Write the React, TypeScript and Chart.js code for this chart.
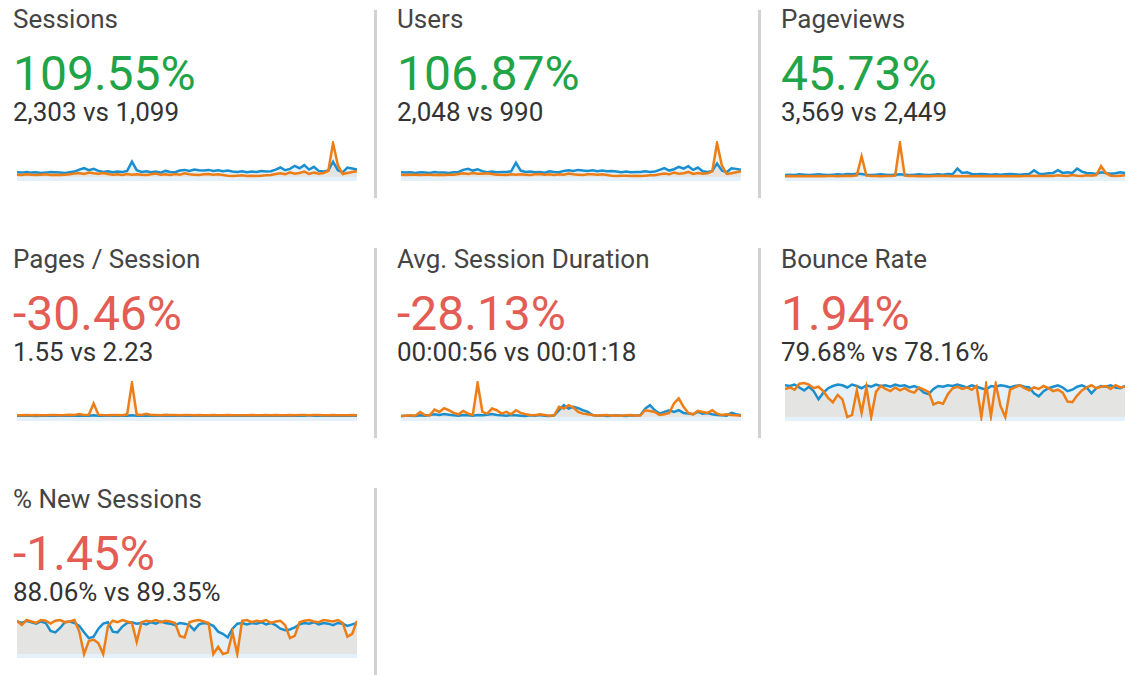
import { useEffect, useRef } from 'react';
import { Chart, registerables } from 'chart.js';

Chart.register(...registerables);

// ---- Tile texts ----
const titles = ['Sessions', 'Users', 'Pageviews', 'Pages / Session', 'Avg. Session Duration', 'Bounce Rate', '% New Sessions'];
const changes = ['109.55%', '106.87%', '45.73%', '-30.46%', '-28.13%', '1.94%', '-1.45%'];
const positive = [true, true, true, false, false, false, false];
const comparisons = ['2,303 vs 1,099', '2,048 vs 990', '3,569 vs 2,449', '1.55 vs 2.23', '00:00:56 vs 00:01:18', '79.68% vs 78.16%', '88.06% vs 89.35%'];

// ---- Series (current = blue, previous = orange) ----
const sessionsCurrent = [
  14, 13, 15, 13, 14, 12, 13, 15, 14, 13, 12, 14,
  16, 22, 26, 20, 24, 18, 15, 17, 14, 16, 15, 18,
  45, 20, 15, 17, 14, 16, 13, 18, 15, 14, 19, 21,
  18, 22, 20, 19, 21, 18, 20, 17, 19, 16, 15, 17,
  14, 16, 15, 18, 16, 17, 22, 28, 20, 24, 33, 26,
  35, 22, 30, 18, 16, 19, 45, 20, 14, 28, 25, 22,
];
const sessionsPrevious = [
  7, 6, 8, 7, 6, 7, 8, 6, 7, 6, 7, 8,
  10, 12, 9, 13, 11, 10, 12, 9, 7, 8, 6, 9,
  7, 8, 7, 6, 8, 10, 7, 8, 6, 9, 7, 11,
  8, 7, 6, 8, 9, 7, 8, 6, 4, 3, 4, 5,
  3, 4, 3, 4, 5, 6, 9, 11, 8, 14, 10, 12,
  16, 9, 13, 10, 12, 18, 100, 35, 9, 12, 15, 18,
];
const usersCurrent = [
  14, 13, 14, 12, 14, 13, 12, 15, 13, 13, 12, 14,
  15, 21, 24, 19, 23, 17, 14, 16, 14, 15, 15, 17,
  42, 19, 15, 16, 14, 15, 13, 17, 15, 14, 18, 20,
  18, 21, 19, 18, 20, 17, 19, 17, 18, 16, 14, 16,
  14, 15, 15, 17, 15, 16, 21, 26, 19, 23, 30, 25,
  32, 21, 28, 17, 15, 18, 40, 19, 14, 26, 24, 21,
];
const usersPrevious = [
  7, 6, 7, 7, 6, 7, 7, 6, 7, 6, 7, 7,
  9, 11, 9, 12, 10, 10, 11, 9, 7, 7, 6, 8,
  7, 8, 7, 6, 8, 9, 7, 8, 6, 8, 7, 10,
  8, 7, 6, 8, 8, 7, 8, 6, 4, 3, 4, 4,
  3, 4, 3, 4, 5, 5, 8, 10, 8, 13, 10, 11,
  15, 9, 12, 10, 11, 17, 100, 34, 9, 11, 14, 17,
];
const pageviewsCurrent = [
  6, 7, 6, 8, 7, 6, 7, 8, 7, 6, 7, 8,
  7, 9, 8, 10, 9, 7, 6, 7, 8, 7, 6, 7,
  8, 7, 6, 7, 8, 7, 6, 7, 8, 7, 9, 8,
  25, 12, 14, 9, 8, 9, 8, 7, 8, 7, 8, 9,
  8, 7, 8, 9, 20, 10, 9, 11, 12, 20, 12, 14,
  12, 25, 16, 12, 11, 9, 14, 12, 10, 11, 14, 12,
];
const pageviewsPrevious = [
  2, 3, 2, 3, 2, 3, 2, 3, 2, 3, 3, 2,
  3, 4, 3, 5, 61, 4, 3, 3, 2, 3, 3, 4,
  100, 4, 3, 3, 2, 3, 2, 3, 3, 4, 3, 2,
  3, 2, 3, 2, 3, 2, 3, 2, 3, 2, 3, 2,
  3, 2, 3, 3, 4, 3, 3, 4, 3, 5, 4, 3,
  6, 4, 3, 5, 4, 6, 32, 12, 4, 3, 4, 5,
];
const pagesPerSessionCurrent = [
  1.5, 1.4, 1.6, 1.5, 1.3, 1.5, 1.6, 1.4, 1.5, 1.7, 1.5, 1.4,
  1.6, 1.5, 1.4, 1.5, 2.0, 1.5, 1.4, 1.6, 1.5, 1.4, 1.5, 1.6,
  2.2, 1.5, 1.4, 1.6, 1.5, 1.7, 1.5, 1.4, 1.6, 1.5, 1.8, 1.5,
  1.4, 1.6, 1.5, 1.4, 1.5, 1.6, 1.5, 1.4, 1.5, 1.6, 1.5, 1.4,
  1.5, 1.7, 1.6, 1.5, 1.8, 1.5, 1.6, 1.7, 1.5, 1.9, 1.6, 1.7,
  1.5, 2.0, 1.6, 1.5, 1.7, 1.6, 1.5, 1.8, 1.6, 1.5, 1.7, 1.6,
];
const pagesPerSessionPrevious = [
  2.2, 2.1, 2.3, 2.2, 2.4, 2.2, 2.1, 2.3, 2.5, 2.2, 2.3, 2.6,
  2.3, 3.5, 2.4, 2.6, 16, 2.8, 2.3, 2.2, 2.4, 2.3, 2.2, 3.2,
  40, 3.0, 2.4, 3.8, 2.3, 2.4, 2.2, 2.6, 2.3, 2.5, 2.2, 2.3,
  2.4, 2.2, 2.3, 2.2, 2.1, 2.3, 2.2, 2.1, 2.3, 2.2, 2.1, 2.2,
  2.2, 2.3, 2.1, 2.2, 2.4, 2.2, 2.3, 2.1, 2.2, 2.3, 2.2, 2.4,
  2.3, 2.2, 2.4, 2.3, 2.2, 2.1, 2.3, 2.2, 2.1, 2.2, 2.3, 2.2,
];
const durationCurrent = [
  30, 40, 35, 30, 50, 40, 60, 80, 60, 90, 70, 50,
  40, 60, 50, 40, 60, 50, 70, 90, 60, 50, 40, 60,
  50, 40, 30, 50, 40, 60, 40, 30, 50, 200, 350, 250,
  300, 260, 200, 150, 60, 40, 50, 30, 40, 50, 40, 30,
  50, 40, 60, 250, 350, 200, 100, 150, 200, 150, 200, 120,
  100, 80, 150, 100, 120, 80, 60, 50, 40, 120, 80, 50,
];
const durationPrevious = [
  30, 40, 50, 40, 150, 60, 50, 220, 150, 260, 200, 120,
  80, 180, 100, 60, 1000, 150, 100, 250, 200, 100, 150, 80,
  200, 120, 80, 60, 50, 80, 60, 40, 50, 300, 250, 350,
  280, 150, 100, 80, 60, 40, 50, 60, 40, 50, 40, 50,
  60, 40, 50, 200, 180, 150, 60, 80, 120, 400, 550, 300,
  120, 80, 180, 150, 120, 200, 100, 60, 80, 60, 50, 40,
];
const bounceCurrent = [
  86, 84, 88, 80, 72, 82, 70, 48, 66, 78, 84, 88,
  86, 80, 88, 84, 78, 86, 82, 88, 84, 86, 82, 88,
  84, 86, 80, 84, 78, 66, 62, 76, 84, 82, 86, 84,
  88, 84, 80, 86, 82, 78, 74, 84, 82, 86, 84, 80,
  84, 86, 82, 80, 64, 56, 70, 78, 82, 86, 80, 70,
  74, 82, 86, 80, 64, 78, 84, 82, 86, 80, 78, 84,
];
const bouncePrevious = [
  76, 80, 74, 90, 92, 88, 78, 82, 70, 52, 40, 60,
  48, 0, 6, 72, 12, 80, 0, 68, 84, 76, 70, 80,
  72, 78, 70, 66, 80, 74, 68, 34, 40, 36, 62, 78,
  82, 76, 80, 74, 84, 0, 88, 2, 90, 30, 0, 74,
  80, 86, 78, 72, 80, 76, 84, 78, 70, 74, 66, 42,
  40, 58, 72, 80, 86, 78, 82, 84, 76, 86, 80, 82,
];
const newSessionsCurrent = [
  90, 86, 92, 88, 84, 90, 86, 64, 60, 72, 88, 90,
  86, 78, 60, 44, 48, 70, 84, 88, 62, 60, 76, 86,
  88, 84, 86, 82, 88, 84, 90, 86, 84, 80, 86, 84,
  80, 66, 82, 86, 84, 78, 62, 56, 46, 70, 84, 86,
  82, 86, 84, 88, 82, 86, 80, 70, 66, 68, 74, 82,
  86, 84, 88, 82, 86, 84, 80, 86, 84, 78, 82, 86,
];
const newSessionsPrevious = [
  92, 80, 94, 90, 86, 94, 92, 84, 92, 94, 88, 90,
  94, 62, 0, 36, 40, 30, 0, 78, 92, 88, 94, 90,
  86, 34, 88, 92, 90, 94, 88, 92, 90, 86, 50, 46,
  88, 92, 94, 90, 86, 0, 20, 0, 4, 60, 0, 92,
  94, 88, 92, 90, 94, 86, 90, 92, 80, 44, 50, 88,
  92, 94, 90, 88, 94, 92, 90, 94, 86, 48, 56, 92,
];

const currentSeries = [sessionsCurrent, usersCurrent, pageviewsCurrent, pagesPerSessionCurrent, durationCurrent, bounceCurrent, newSessionsCurrent];
const previousSeries = [sessionsPrevious, usersPrevious, pageviewsPrevious, pagesPerSessionPrevious, durationPrevious, bouncePrevious, newSessionsPrevious];

const COL_X = [13, 397, 781];
const ROW_Y = [0, 240, 480];
const CHART_TOP = [141, 381, 618];
const FONT = 'Roboto, "Noto Sans", sans-serif';

function Sparkline({ current, previous, left, top }: { current: number[]; previous: number[]; left: number; top: number }) {
  const ref = useRef<HTMLCanvasElement | null>(null);
  useEffect(() => {
    if (!ref.current) return;
    const max = Math.max(...current, ...previous) * 1.06;
    const chart = new Chart(ref.current, {
      type: 'line',
      data: {
        labels: current.map((_, i) => String(i + 1)),
        datasets: [
          {
            data: previous,
            borderColor: '#ed7e17',
            backgroundColor: 'rgba(237,126,23,0.1)',
            fill: 'origin',
            borderWidth: 2.5,
            pointRadius: 0,
            tension: 0,
          },
          {
            data: current,
            borderColor: '#1a8fcf',
            backgroundColor: 'rgb(228,241,250)',
            fill: 'start',
            borderWidth: 2.5,
            pointRadius: 0,
            tension: 0,
          },
        ],
      },
      options: {
        animation: false,
        responsive: false,
        devicePixelRatio: 1,
        events: [],
        layout: { padding: 0 },
        plugins: {
          legend: { display: false },
          tooltip: { enabled: false },
          filler: { drawTime: 'beforeDatasetsDraw' },
        },
        scales: {
          x: { display: false },
          y: { display: false, min: -0.11 * max, max },
        },
      },
    } as any);
    return () => chart.destroy();
  }, [current, previous]);
  return (
    <canvas
      ref={ref}
      width={340}
      height={40}
      style={{ position: 'absolute', left, top, width: 340, height: 40 }}
    />
  );
}

export default function App() {
  const tiles = titles.map((t, i) => {
    const col = i % 3;
    const row = Math.floor(i / 3);
    const x = COL_X[col];
    const y = ROW_Y[row];
    return (
      <div key={t}>
        <div style={{ position: 'absolute', left: x, top: y + 9, fontSize: 26, lineHeight: '20px', color: '#444', whiteSpace: 'nowrap' }}>{t}</div>
        <div style={{ position: 'absolute', left: x, top: y + 56, fontSize: 48, lineHeight: '36px', color: positive[i] ? '#1fa447' : '#e35d54', whiteSpace: 'nowrap' }}>{changes[i]}</div>
        <div style={{ position: 'absolute', left: x, top: y + 102, fontSize: 26, lineHeight: '20px', color: '#333', whiteSpace: 'nowrap' }}>{comparisons[i]}</div>
        <Sparkline current={currentSeries[i]} previous={previousSeries[i]} left={x + 4} top={CHART_TOP[row]} />
      </div>
    );
  });
  const seps: any[] = [];
  const sepRows = [[10, 198], [248, 438], [488, 675]];
  sepRows.forEach(([a, b], r) => {
    [374, 758].forEach((sx, c) => {
      if (r === 2 && c === 1) return;
      seps.push(<div key={`s${r}${c}`} style={{ position: 'absolute', left: sx, top: a, width: 3, height: b - a, background: '#d2d2d2' }} />);
    });
  });
  return (
    <div style={{ position: 'fixed', left: 0, top: 0, width: 1138, height: 675, background: '#fff', fontFamily: FONT, overflow: 'hidden' }}>
      {seps}
      {tiles}
    </div>
  );
}
